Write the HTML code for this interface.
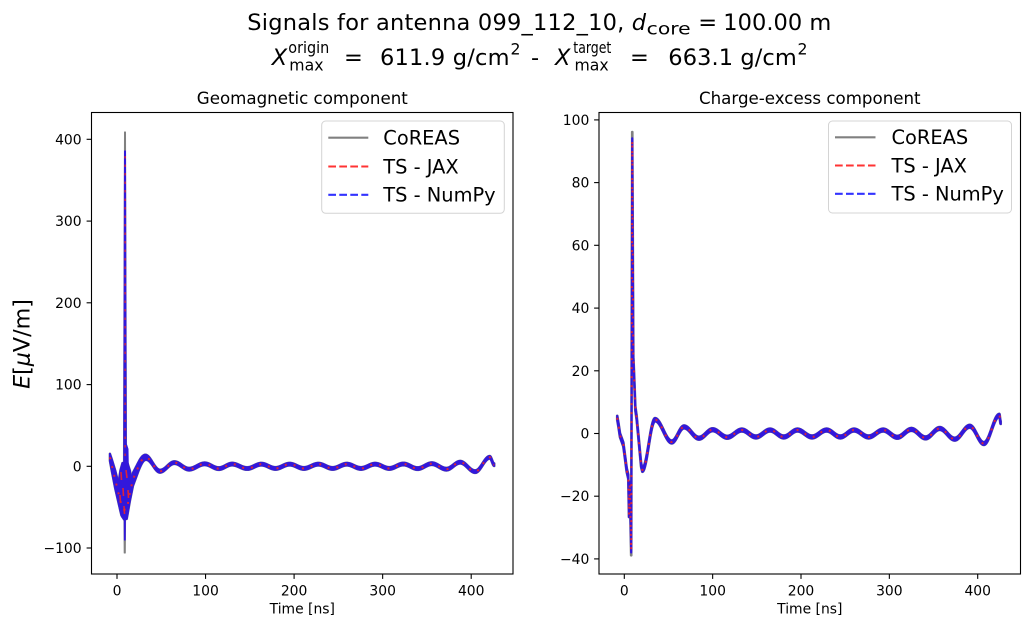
<!DOCTYPE html>
<html>
<head>
<meta charset="utf-8">
<style>
  html,body{margin:0;padding:0;background:#fff;}
  svg{display:block;}
  text{font-family:"DejaVu Sans","Liberation Sans",sans-serif;fill:#000;}
</style>
</head>
<body>
<svg id="fig" width="1030" height="627" viewBox="0 0 1030 627" xmlns="http://www.w3.org/2000/svg">
  <rect width="1030" height="627" fill="#fff"/>

  <!-- Suptitle line 1 -->
  <text x="247.3" y="30" font-size="22.5" textLength="377" lengthAdjust="spacing">Signals for antenna 099_112_10,</text>
  <text x="631.7" y="30" font-size="22.5" font-style="italic">d</text>
  <text x="646.7" y="34.5" font-size="17" textLength="44" lengthAdjust="spacingAndGlyphs">core</text>
  <text x="698.3" y="30" font-size="22.5">=</text>
  <text x="723.3" y="30" font-size="22.5" textLength="108" lengthAdjust="spacing">100.00 m</text>

  <!-- Suptitle line 2 -->
  <text x="271.7" y="65" font-size="22.5" font-style="italic">X</text>
  <text x="288.3" y="53" font-size="15.7" textLength="41" lengthAdjust="spacingAndGlyphs">origin</text>
  <text x="289.3" y="70.5" font-size="15.7">max</text>
  <text x="344" y="65" font-size="22.5">=</text>
  <text x="380" y="65" font-size="22.5" textLength="129.5" lengthAdjust="spacing">611.9 g/cm</text>
  <text x="510.5" y="54.5" font-size="15.7">2</text>
  <text x="531" y="65" font-size="22.5">-</text>
  <text x="555" y="65" font-size="22.5" font-style="italic">X</text>
  <text x="573.3" y="53" font-size="15.7" textLength="38" lengthAdjust="spacingAndGlyphs">target</text>
  <text x="574.5" y="70.5" font-size="15.7">max</text>
  <text x="630" y="65" font-size="22.5">=</text>
  <text x="668.3" y="65" font-size="22.5" textLength="128.5" lengthAdjust="spacing">663.1 g/cm</text>
  <text x="797.5" y="54.5" font-size="15.7">2</text>

  <!-- Subplot titles -->
  <text x="302.3" y="104" font-size="16.67" text-anchor="middle">Geomagnetic component</text>
  <text x="809.8" y="104" font-size="16.67" text-anchor="middle">Charge-excess component</text>

  <!-- Y label -->
  <text transform="translate(29.5,344) rotate(-90)" font-size="22.2" text-anchor="middle"><tspan font-style="italic">E</tspan>[<tspan font-style="italic">μ</tspan>V/m]</text>

  <!-- data layers (filled by script) -->
  <g id="dataL"></g>
  <g id="dataR"></g>

  <!-- Axes frames -->
  <rect x="91.5" y="112.5" width="421.5" height="461.5" fill="none" stroke="#000" stroke-width="1.1"/>
  <rect x="599" y="112.5" width="421.5" height="461.5" fill="none" stroke="#000" stroke-width="1.1"/>

  <!-- Left ticks -->
  <g stroke="#000" stroke-width="1.1">
    <line x1="117" y1="574" x2="117" y2="578.9"/>
    <line x1="205.55" y1="574" x2="205.55" y2="578.9"/>
    <line x1="294.1" y1="574" x2="294.1" y2="578.9"/>
    <line x1="382.65" y1="574" x2="382.65" y2="578.9"/>
    <line x1="471.2" y1="574" x2="471.2" y2="578.9"/>
    <line x1="91.5" y1="548" x2="86.6" y2="548"/>
    <line x1="91.5" y1="466.3" x2="86.6" y2="466.3"/>
    <line x1="91.5" y1="384.6" x2="86.6" y2="384.6"/>
    <line x1="91.5" y1="302.8" x2="86.6" y2="302.8"/>
    <line x1="91.5" y1="221.1" x2="86.6" y2="221.1"/>
    <line x1="91.5" y1="139.3" x2="86.6" y2="139.3"/>
  </g>
  <g font-size="13.9" text-anchor="middle">
    <text x="117" y="595.5">0</text>
    <text x="205.55" y="595.5">100</text>
    <text x="294.1" y="595.5">200</text>
    <text x="382.65" y="595.5">300</text>
    <text x="471.2" y="595.5">400</text>
  </g>
  <g font-size="13.9" text-anchor="end">
    <text x="81.6" y="553">−100</text>
    <text x="81.6" y="471.3">0</text>
    <text x="81.6" y="389.6">100</text>
    <text x="81.6" y="307.8">200</text>
    <text x="81.6" y="226.1">300</text>
    <text x="81.6" y="144.3">400</text>
  </g>
  <text x="302.3" y="613.3" font-size="13.9" text-anchor="middle">Time [ns]</text>

  <!-- Right ticks -->
  <g stroke="#000" stroke-width="1.1">
    <line x1="624.3" y1="574" x2="624.3" y2="578.9"/>
    <line x1="712.65" y1="574" x2="712.65" y2="578.9"/>
    <line x1="801" y1="574" x2="801" y2="578.9"/>
    <line x1="889.35" y1="574" x2="889.35" y2="578.9"/>
    <line x1="977.7" y1="574" x2="977.7" y2="578.9"/>
    <line x1="599" y1="558.9" x2="594.1" y2="558.9"/>
    <line x1="599" y1="496.2" x2="594.1" y2="496.2"/>
    <line x1="599" y1="433.5" x2="594.1" y2="433.5"/>
    <line x1="599" y1="370.8" x2="594.1" y2="370.8"/>
    <line x1="599" y1="308.1" x2="594.1" y2="308.1"/>
    <line x1="599" y1="245.3" x2="594.1" y2="245.3"/>
    <line x1="599" y1="182.6" x2="594.1" y2="182.6"/>
    <line x1="599" y1="119.9" x2="594.1" y2="119.9"/>
  </g>
  <g font-size="13.9" text-anchor="middle">
    <text x="624.3" y="595.5">0</text>
    <text x="712.65" y="595.5">100</text>
    <text x="801" y="595.5">200</text>
    <text x="889.35" y="595.5">300</text>
    <text x="977.7" y="595.5">400</text>
  </g>
  <g font-size="13.9" text-anchor="end">
    <text x="589.3" y="563.9">−40</text>
    <text x="589.3" y="501.2">−20</text>
    <text x="589.3" y="438.5">0</text>
    <text x="589.3" y="375.8">20</text>
    <text x="589.3" y="313.1">40</text>
    <text x="589.3" y="250.3">60</text>
    <text x="589.3" y="187.6">80</text>
    <text x="589.3" y="124.9">100</text>
  </g>
  <text x="809.8" y="613.3" font-size="13.9" text-anchor="middle">Time [ns]</text>

  <!-- Left legend -->
  <rect x="321.7" y="121" width="182.6" height="92.3" rx="4" ry="4" fill="#fff" fill-opacity="0.8" stroke="#d4d4d4" stroke-width="1"/>
  <line x1="328.3" y1="137.7" x2="368.3" y2="137.7" stroke="#808080" stroke-width="2.1"/>
  <line x1="328.3" y1="166.5" x2="368.3" y2="166.5" stroke="#ff3333" stroke-width="2.1" stroke-dasharray="7.7 3.3"/>
  <line x1="328.3" y1="194.8" x2="368.3" y2="194.8" stroke="#3333ff" stroke-width="2.1" stroke-dasharray="7.7 3.3"/>
  <g font-size="19.4">
    <text x="383.3" y="144.5">CoREAS</text>
    <text x="383.3" y="173.3">TS - JAX</text>
    <text x="383.3" y="201.6">TS - NumPy</text>
  </g>

  <!-- Right legend -->
  <rect x="828.5" y="121" width="183" height="92" rx="4" ry="4" fill="#fff" fill-opacity="0.8" stroke="#d4d4d4" stroke-width="1"/>
  <line x1="835" y1="137.3" x2="875.5" y2="137.3" stroke="#808080" stroke-width="2.1"/>
  <line x1="835" y1="165.5" x2="875.5" y2="165.5" stroke="#ff3333" stroke-width="2.1" stroke-dasharray="7.7 3.3"/>
  <line x1="835" y1="193.8" x2="875.5" y2="193.8" stroke="#3333ff" stroke-width="2.1" stroke-dasharray="7.7 3.3"/>
  <g font-size="19.4">
    <text x="891.5" y="144">CoREAS</text>
    <text x="891.5" y="172.3">TS - JAX</text>
    <text x="891.5" y="200.6">TS - NumPy</text>
  </g>
</svg>

<script>
(function(){
  var NS = 'http://www.w3.org/2000/svg';
  function ev(pts, t){
    var n = pts.length;
    if (t <= pts[0][0]) return pts[0][1];
    if (t >= pts[n-1][0]) return pts[n-1][1];
    var lo = 0, hi = n-1;
    while (hi - lo > 1){ var m = (lo+hi)>>1; if (pts[m][0] <= t) lo = m; else hi = m; }
    var a = pts[lo], b = pts[hi];
    var f = (t - a[0])/(b[0]-a[0]);
    var mode = a[2] || 'l';
    if (mode === 'c') f = (1 - Math.cos(Math.PI*f))/2;
    else if (mode === 'q') f = Math.sin(Math.PI/2*f);
    return a[1] + (b[1]-a[1])*f;
  }
  function samples(pts, t0, t1){
    var arr = [];
    var t = t0;
    while (t <= t1 + 1e-9){ arr.push(+t.toFixed(3)); t += (t > 3 && t < 16) ? 0.02 : 0.2; }
    pts.forEach(function(p){ if (p[0] >= t0 && p[0] <= t1) arr.push(p[0]); });
    arr.sort(function(a,b){return a-b;});
    var out = [];
    for (var i=0;i<arr.length;i++){ if (i===0 || arr[i]-arr[i-1] > 1e-6) out.push(arr[i]); }
    return out;
  }
  function bandPath(ts, X, Y, base, amp){
    var up = [], lo = [];
    for (var i=0;i<ts.length;i++){
      var t = ts[i], v = ev(base,t), a = ev(amp,t);
      up.push(X(t).toFixed(2)+','+Y(v+a).toFixed(2));
      lo.push(X(t).toFixed(2)+','+Y(v-a).toFixed(2));
    }
    lo.reverse();
    return 'M'+up.join('L')+'L'+lo.join('L')+'Z';
  }
  function linePath(ts, X, Y, base){
    var p = [];
    for (var i=0;i<ts.length;i++){ var t=ts[i]; p.push(X(t).toFixed(2)+','+Y(ev(base,t)).toFixed(2)); }
    return 'M'+p.join('L');
  }
  function add(g, tag, attrs){
    var e = document.createElementNS(NS, tag);
    for (var k in attrs) e.setAttribute(k, attrs[k]);
    g.appendChild(e);
    return e;
  }
  var BLUE = '#3218dc', GRAY = '#808080', RED = '#ee2626';

  // ---------- LEFT (Geomagnetic) ----------
  var XL = function(t){ return 117 + 0.8855*t; };
  var YL = function(v){ return 466.3 - 0.8174*v; };
  var baseL = [
    [-8,11,'l'],[5,-48,'l'],[8,-53,'l'],[11,-53,'l'],[14.5,-33,'l'],[18,-16,'l'],[22,-6,'q'],[32.4,11,'c'],
    [48.6,-6,'c'],[64.8,4.5,'c'],[81.4,-3.5,'c'],[99,3,'c'],[115,-2.8,'c'],[130,2.7,'c'],
    [147,-2.7,'c'],[163,2.6,'c'],[179,-2.6,'c'],[195,2.6,'c'],[211,-2.6,'c'],[227.5,2.6,'c'],
    [243.5,-2.6,'c'],[259.5,2.6,'c'],[275.5,-2.6,'c'],[291.5,2.6,'c'],[307.5,-2.6,'c'],
    [323.5,2.8,'c'],[339.5,-2.8,'c'],[355.5,3.2,'c'],[372,-3.5,'c'],[387.6,5,'c'],
    [404.5,-6.5,'c'],[421,11,'c'],[426,2,'c']
  ];
  var ampL = [[-9,3],[-6,7],[-2,11],[4,12],[8,12],[12,11],[18,8],[24,5.5],[30,3.5],[40,2],[55,1.6],[430,1.6]];
  var gL = document.getElementById('dataL');
  var tsL = samples(baseL, -8, 426);
  var bandL = bandPath(tsL, XL, YL, baseL, ampL);
  var blob = 'M118,486 L120.5,470 L122.5,463 L127.5,463 L130,471 L131,480 L129,498 L126.5,514 L122.5,517 L119.5,504 Z';
  add(gL, 'path', {d: bandL, fill: GRAY, stroke: GRAY, 'stroke-width': 2.5, 'stroke-linejoin': 'round'});
  add(gL, 'path', {d: 'M123.4,470 L124.5,132 L125.5,132 L126.6,470 Z M123.6,466 L124.2,553 L125.3,553 L126,466 Z', fill: GRAY, stroke: GRAY, 'stroke-width': 1, 'stroke-linejoin': 'round'});
  add(gL, 'path', {d: blob, fill: GRAY, stroke: GRAY, 'stroke-width': 2.5, 'stroke-linejoin': 'round'});
  add(gL, 'path', {d: bandL, fill: BLUE, stroke: BLUE, 'stroke-width': 2, 'stroke-linejoin': 'round'});
  add(gL, 'path', {d: blob, fill: BLUE, stroke: BLUE, 'stroke-width': 2, 'stroke-linejoin': 'round'});
  add(gL, 'path', {d: 'M123.7,470 L124.5,151 L125.5,151 L126.3,470 Z M123.9,466 L124.4,540 L125.2,540 L125.8,466 Z M125,440 L128,449 L128.3,466 L125,466 Z', fill: BLUE, stroke: BLUE, 'stroke-width': 1, 'stroke-linejoin': 'round'});
  add(gL, 'path', {d: linePath(tsL, XL, YL, baseL), fill: 'none', stroke: RED, 'stroke-width': 2, 'stroke-dasharray': '2 7', 'stroke-opacity': 0.9});
  add(gL, 'path', {d: 'M121,472 L121.5,480 M126,470 L127,478 M123,488 L123.5,496 M120,495 L120.5,502 M128,490 L128.5,498 M124,506 L124.5,514', fill: 'none', stroke: RED, 'stroke-width': 1.6, 'stroke-opacity': 0.9});
  add(gL, 'line', {x1: 125.1, y1: 156, x2: 125.1, y2: 462, stroke: RED, 'stroke-width': 1.2, 'stroke-dasharray': '2.5 6'});

  // ---------- RIGHT (Charge-excess) ----------
  var XR = function(t){ return 624.3 + 0.8835*t; };
  var YR = function(v){ return 433.5 - 3.136*v; };
  function rightPts(top, bot){
    return [
      [-8,5,'l'],[-6.5,2.5,'l'],[-4.9,-0.5,'l'],[-1.1,-3.5,'l'],[2.7,-11.6,'l'],[4.5,-13.8,'l'],
      [5.3,-26,'l'],[6.2,-16,'l'],[7.8,bot,'l'],[9.0,top,'l'],[10.2,24,'l'],[11,19,'l'],
      [12.5,8,'l'],[14,5,'l'],[19,-10,'l'],[20.4,-11.6,'c'],[34.8,4.4,'c'],[53.7,-2.7,'c'],
      [67.6,2.1,'c'],[84.5,-1.5,'c'],[100,1.2,'c'],[116.5,-1.2,'c'],[133,1.1,'c'],[149,-1.1,'c'],
      [165,1.1,'c'],[180.5,-1.1,'c'],[196,1.1,'c'],[212.5,-1.1,'c'],[229,1.1,'c'],[244.5,-1.1,'c'],
      [260,1.1,'c'],[276.5,-1.1,'c'],[293,1.1,'c'],[309,-1.2,'c'],[325,1.3,'c'],[341,-1.4,'c'],
      [357,1.6,'c'],[374,-1.8,'c'],[391,2.3,'c'],[407,-3.2,'c'],[424.5,5.8,'c'],[426,3.5,'c']
    ];
  }
  var baseRb = rightPts(93.5, -37.3);
  var baseRg = rightPts(95.5, -38.2);
  var ampR = [[-9,0.65],[25,0.6],[40,0.45],[430,0.45]];
  var gR = document.getElementById('dataR');
  var tsR = samples(baseRb, -8, 426);
  add(gR, 'path', {d: bandPath(tsR, XR, YR, baseRg, ampR), fill: GRAY, stroke: GRAY, 'stroke-width': 2.7, 'stroke-linejoin': 'round'});
  add(gR, 'path', {d: bandPath(tsR, XR, YR, baseRb, ampR), fill: BLUE, stroke: BLUE, 'stroke-width': 2.2, 'stroke-linejoin': 'round'});
  add(gR, 'path', {d: linePath(tsR, XR, YR, baseRb), fill: 'none', stroke: RED, 'stroke-width': 2, 'stroke-dasharray': '2 7', 'stroke-opacity': 0.9});
})();
</script>
</body>
</html>
